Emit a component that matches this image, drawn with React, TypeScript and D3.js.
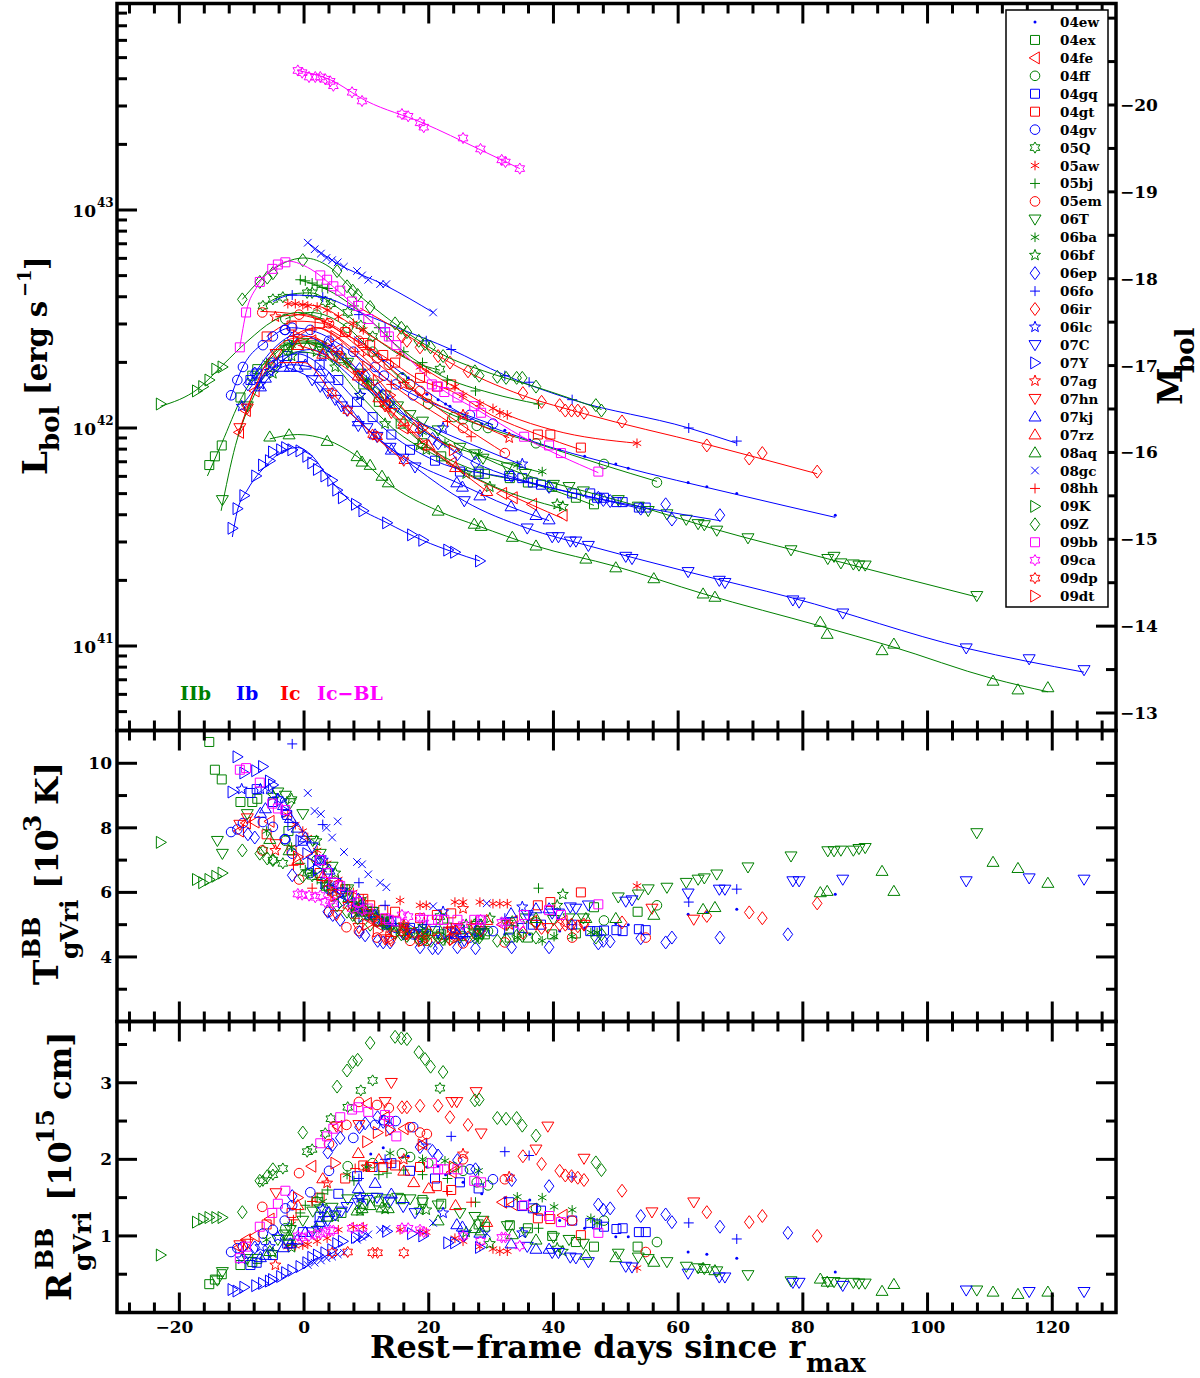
import React from "react";
import * as d3 from "d3";

const n = null;
// Each row: [rest-frame day, log10 Lbol, TBB (10^3 K), RBB (10^15 cm)]
const sn04ew = [[10.7,42.36,5.45,2.07],[12.7,42.31,5.2,2.15],[15.8,42.25,5.0,2.03],[16.7,42.23,4.95,2.04],[19.7,42.155,4.75,1.9],[21.5,42.13,4.6,1.91],[22.7,42.11,4.55,1.8],[23.4,42.1,4.6,1.82],[25.5,42.05,4.6,1.7],[28.5,42.02,4.65,1.55],[32.2,41.99,4.7,1.5],[36.2,41.945,4.7,1.47],[41,41.9,4.8,1.2],[45,41.87,4.9,1.1],[50,41.835,5.04,0.99],[52,41.815,5.0,0.99],[61.6,41.75,5.32,0.79],[64.6,41.73,5.38,0.76],[69.4,41.7,5.48,0.71],[85.2,41.6,5.94,0.53]];
const sn04ex = [[-15.2,41.83,10.66,0.37],[-14.3,41.87,9.8,0.43],[-13.2,41.92,9.5,0.5],[-10.2,42.14,8.8,0.62],[-8.3,42.24,8.8,0.66],[-7.5,42.27,8.9,0.7],[-2.5,42.38,7.9,0.95],[6,42.32,6.0,1.3],[9.5,42.2,5.5,1.42],[12,42.12,5.1,1.45],[15.5,42.02,4.8,1.48],[19,41.93,4.7,1.47],[22,41.87,4.7,1.42],[28,41.8,4.7,1.15],[29,41.79,4.7,1.12],[33,41.77,4.6,1.14],[35.9,41.75,4.6,1.1],[39.8,41.73,4.7,1.0],[43.6,41.68,4.73,0.92],[46.5,41.65,5.54,0.86],[53.5,n,5.4,0.86]];
const sn04fe = [[-10.4,41.98,7.9,0.85],[-9.3,42.08,8.15,0.95],[-7.9,42.17,8.18,1.0],[-5.5,42.28,8.2,1.22],[1.2,42.4,7.1,1.91],[5.4,42.36,6.2,2.43],[10.1,42.2,5.4,2.73],[13,42.1,5.0,2.55],[16,42.0,4.7,2.4],[19,41.92,4.6,2.2],[23.7,41.84,4.65,1.83],[31.8,41.7,5.0,1.44],[33.5,41.68,5.1,1.41],[36.6,41.65,5.1,1.35],[41.5,41.6,5.1,1.27]];
const sn04ff = [[-3,42.5,7.6,1.1],[2,42.52,7.0,1.45],[7,42.46,5.9,1.91],[11,42.35,5.3,1.95],[15.7,42.23,4.8,2.08],[17,42.2,4.75,2.03],[19.9,42.11,4.7,1.95],[24,42.05,4.6,1.9],[25.5,42.04,4.65,1.85],[27.7,42.01,4.7,1.7],[29.5,42.0,4.8,1.66],[37.2,41.93,5.07,1.36],[48.1,41.835,5.13,1.2],[56.6,41.75,5.6,0.92]];
const sn04gq = [[-8.6,42.22,9.08,0.62],[-7.6,42.25,9.2,0.65],[-5,42.3,8.8,0.75],[-2.7,42.33,8.4,0.9],[-0.2,42.325,7.6,1.05],[2.5,42.29,7.0,1.25],[5.5,42.22,6.2,1.55],[8.5,42.12,5.7,1.78],[11,42.05,5.4,1.9],[14,41.97,5.1,1.95],[17,41.9,4.9,1.85],[21,41.85,4.8,1.75],[25,41.8,4.85,1.7],[28,41.79,4.8,1.62],[32.9,41.78,4.85,1.44],[35,41.77,4.9,1.39],[36.7,41.75,5.0,1.36],[38,41.74,5.0,1.33],[43,41.7,5.0,1.2],[45.9,41.7,4.8,1.17],[47,41.68,4.8,1.15],[48.1,41.68,4.82,1.12],[50.1,41.66,4.83,1.09],[51.1,41.66,4.8,1.1],[53.7,41.635,4.86,1.05],[54.8,41.635,4.83,1.05]];
const sn04gt = [[-6,42.42,7.8,1.15],[-2,42.47,7.3,1.3],[2.5,42.48,6.6,1.5],[6.6,42.44,6.1,1.75],[9.5,42.39,5.8,1.92],[10.6,42.38,5.6,1.9],[12.7,42.335,5.45,1.9],[14.6,42.3,5.4,1.92],[18.6,42.23,5.2,1.9],[21.3,42.19,5.3,1.65],[23.6,42.2,5.35,1.6],[37.5,41.97,5.6,1.23],[39.5,41.97,5.7,1.22],[44.4,41.91,6.0,1.01]];
const sn04gv = [[-11.7,42.15,7.87,0.79],[-10.7,42.22,7.95,0.84],[-9.8,42.28,8.15,0.86],[-6.6,42.38,8.18,1.03],[-5,42.42,8.03,1.08],[-3.1,42.45,7.65,1.2],[-3,42.45,7.65,1.36],[-1.9,42.46,7.2,1.4],[1,42.45,6.6,1.57],[4,42.4,6.1,1.85],[7.9,42.35,5.6,2.28],[11.4,42.28,5.2,2.45],[12.8,42.24,5.05,2.51],[14.7,42.2,4.9,2.5],[17.5,42.15,4.7,2.42],[26.6,42.06,4.6,1.87],[30.3,42.02,4.8,1.74]];
const sn05Q = [[-6.6,42.56,7.3,1.72],[-5,42.59,7.0,1.8],[-3.4,42.6,6.9,1.88],[0.5,42.62,6.6,2.1],[1.3,42.62,6.5,2.13],[3.4,42.58,6.2,2.34],[4.3,42.57,6.1,2.53],[7,42.53,5.8,2.68],[9.1,42.47,5.5,2.9],[11,42.42,5.3,3.03],[21.8,42.27,5.25,2.93]];
const sn05aw = [[-2.6,42.57,8.4,0.86],[-1.4,42.57,8.1,0.87],[-0.2,42.565,7.9,0.88],[0.6,42.56,7.7,0.89],[2.1,42.555,7.3,0.93],[3.7,42.54,6.9,0.97],[5.5,42.51,6.4,1.08],[7.9,42.48,6.0,1.12],[9.5,42.45,5.8,1.12],[15.4,42.34,5.75,1.08],[18.6,42.28,5.6,1.05],[19.6,42.26,5.6,1.05],[24.2,42.19,5.7,0.97],[25.5,42.15,5.7,0.93],[28.2,42.11,5.7,0.86],[30.3,42.09,5.65,0.83],[31.4,42.07,5.65,0.8],[32.6,42.06,5.65,0.8],[53.4,41.93,6.2,0.58]];
const sn05bj = [[-0.6,42.68,6.9,1.3],[0.2,42.675,6.7,1.4],[1.3,42.665,6.6,1.45],[2.1,42.655,6.4,1.5],[2.9,42.645,6.3,1.55],[3.8,42.64,6.2,1.6],[8,42.56,5.7,1.72],[12,42.46,5.3,1.8],[13.3,42.42,5.2,1.82],[16,42.35,5.0,1.86],[19,42.3,5.0,1.8],[23,42.22,5.05,1.75],[27.5,42.17,5.1,1.44],[37.6,42.11,6.13,1.1]];
const sn05em = [[-6.7,42.53,7.3,1.38],[-0.8,42.52,6.4,1.82],[4,42.48,5.4,2.2],[6.8,42.44,4.92,2.45],[8.8,42.4,4.8,2.75],[11.7,42.32,4.6,2.71],[13.6,42.29,4.55,2.67],[17,42.2,4.5,2.42],[18.6,42.17,4.5,2.35],[19.7,42.14,4.5,2.33],[25.5,42.0,4.42,2.0],[32.2,41.885,4.45,1.74],[43,n,4.6,1.2],[54.8,n,4.6,0.79]];
const sn06T = [[-13.9,n,7.6,0.42],[-13.1,41.67,7.2,0.53],[-9.1,42.1,8.43,0.7],[-4.2,42.34,9.1,0.95],[-3,42.36,9.0,1.02],[-2.2,42.37,8.77,1.08],[-0.2,42.39,8.43,1.2],[1.4,42.38,7.6,1.32],[2.6,42.37,7.2,1.35],[4.5,42.33,6.8,1.37],[7,42.3,6.1,1.48],[9,42.25,5.7,1.5],[11,42.2,5.4,1.5],[13,42.15,5.1,1.48],[15,42.1,4.9,1.5],[17,42.06,4.75,1.48],[19,42.03,4.65,1.44],[21.5,41.99,4.6,1.4],[25,41.91,4.6,1.3],[27.4,41.88,4.7,1.25],[28.7,41.86,4.75,1.2],[32.6,41.82,5.0,1.13],[35.5,41.79,5.2,1.05],[40,41.74,5.15,0.98],[42.5,41.73,5.2,0.95],[44.8,41.71,5.2,0.9],[50.4,41.67,5.85,0.77],[53.6,41.64,5.94,0.72],[55.2,41.62,6.1,0.7],[58.2,41.605,6.15,0.66],[61.3,41.58,6.3,0.6],[63.2,41.56,6.4,0.58],[64.2,41.555,6.44,0.57],[66.2,41.53,6.56,0.54],[71.2,41.495,6.78,0.49],[78.1,41.44,7.12,0.41],[84,41.4,7.28,0.4],[85,41.41,7.28,0.4],[86.1,41.38,7.3,0.39],[88.1,41.375,7.3,0.39],[89,41.37,7.35,0.38],[90,41.37,7.38,0.38],[107.9,41.23,7.84,0.29]];
const sn06ba = [[-6,42.3,7.9,0.95],[-2,42.38,7.4,1.15],[3,42.38,6.7,1.45],[6.9,42.3,6.1,1.8],[10,42.22,5.4,1.9],[13.8,42.1,4.9,2.08],[19,41.98,4.6,2.0],[22.6,41.93,4.5,1.98],[28,41.88,4.6,1.85],[34.2,41.83,4.6,1.51],[38.2,41.8,4.5,1.5],[40.1,n,4.63,1.38],[43,n,4.63,1.34],[46,n,4.76,1.23],[47,n,4.76,1.17]];
const sn06bf = [[-5,42.25,9.0,0.78],[-2,42.33,8.9,0.85],[2,42.35,7.6,1.1],[5,42.28,6.6,1.25],[9,42.15,5.6,1.33],[13,42.02,5.0,1.35],[18.5,41.92,4.85,1.34],[19.6,41.9,4.8,1.34],[26,41.79,5.0,1.05],[29.8,41.73,5.2,0.9],[40.6,41.65,5.6,0.84],[41.5,41.64,5.94,0.8]];
const sn06ep = [[-9,42.2,7.8,0.78],[-7.9,42.25,7.7,0.85],[-1.9,42.41,6.53,1.52],[3.8,42.38,5.4,2.09],[4.6,42.36,5.3,2.19],[5.8,42.34,5.15,2.28],[8.9,42.27,4.77,2.42],[9.8,42.24,4.67,2.47],[11.8,42.18,4.5,2.55],[12.7,42.15,4.45,2.49],[13.8,42.12,4.45,2.4],[18.6,41.99,4.3,2.16],[20.6,41.95,4.27,2.11],[21.5,41.93,4.27,2.05],[24.6,41.88,4.3,1.99],[27.5,41.84,4.27,1.87],[33.3,41.78,4.3,1.73],[39.3,41.73,4.3,1.65],[47.2,41.68,4.42,1.41],[48,41.67,4.5,1.34],[49.1,41.665,4.48,1.36],[54,41.63,4.58,1.26],[58,41.65,4.45,1.28],[59,41.58,4.6,1.18],[66.7,41.6,4.6,1.12],[77.6,n,4.7,1.04]];
const sn06fo = [[-1.9,42.61,10.6,0.9],[3,42.6,8.1,1.25],[8.8,42.52,6.3,1.75],[13,42.46,5.6,2.0],[19.6,42.4,5.0,2.2],[23.6,42.36,4.9,2.3],[32.2,42.24,5.2,2.1],[36.1,42.21,5.3,2.05],[43,42.13,5.0,1.77],[61.7,42.0,5.7,1.17],[69.4,41.94,6.1,0.96]];
const sn06ir = [[15.7,42.42,4.8,2.68],[16.5,42.4,4.75,2.68],[18.6,42.37,4.6,2.7],[21.5,42.33,4.6,2.7],[23.4,42.3,4.55,2.55],[26.3,42.26,4.6,2.45],[35.1,42.16,4.75,2.04],[38.1,42.12,4.9,1.94],[41,42.105,5.0,1.85],[41.9,42.08,5.0,1.79],[42.9,42.08,5.0,1.78],[43.9,42.08,4.95,1.76],[44.9,42.07,5.0,1.73],[51,42.03,5.07,1.59],[64.6,41.92,5.27,1.31],[71.4,41.86,5.38,1.18],[73.5,41.885,5.2,1.26],[82.3,41.8,5.66,1.0]];
const sn06lc = [[-10,42.1,9.2,0.7],[-7,42.2,9.2,0.86],[-5.5,42.26,9.2,0.86],[-4.2,42.3,8.9,0.99],[3,42.33,7.0,1.35],[9,42.15,5.4,1.5],[22.3,42.0,5.4,1.3],[35,41.835,5.55,1.04]];
const sn07C = [[1.3,42.22,7.4,1.05],[2.6,42.19,7.0,1.13],[3.8,42.16,6.6,1.2],[5,42.13,6.3,1.27],[6,42.1,6.0,1.32],[6.9,42.08,5.9,1.38],[8.7,42.01,5.5,1.43],[10.1,42.0,5.3,1.47],[11.7,41.96,5.1,1.5],[13.8,41.91,4.9,1.45],[15.9,41.86,4.7,1.38],[17.8,41.82,4.7,1.3],[25.7,41.665,4.5,1.0],[35.8,41.54,5.3,0.86],[39.8,41.5,5.35,0.78],[40.8,41.5,5.35,0.78],[42.7,41.48,5.54,0.72],[43.6,41.48,5.5,0.71],[45.6,41.46,5.6,0.66],[51.6,41.41,5.72,0.6],[52.6,41.4,5.76,0.59],[61.6,41.34,5.97,0.51],[66.6,41.3,6.09,0.46],[67.5,41.29,6.09,0.46],[78.4,41.21,6.35,0.39],[79.4,41.2,6.35,0.39],[86.4,41.15,6.4,0.35],[106.2,40.99,6.35,0.29],[116.3,40.94,6.44,0.27],[125.1,40.89,6.4,0.27]];
const sn07Y = [[-11.5,41.54,9.11,0.3],[-10.7,41.63,10.2,0.28],[-9.6,41.69,9.7,0.33],[-7.7,41.78,9.77,0.35],[-6.6,41.83,9.9,0.38],[-5.5,41.85,9.45,0.41],[-5,41.89,9.33,0.43],[-3.7,41.9,8.86,0.47],[-2.9,41.91,8.5,0.52],[-1.9,41.9,8.1,0.55],[-0.6,41.895,7.6,0.6],[0.5,41.87,7.2,0.65],[1.3,41.84,6.9,0.72],[2.2,41.81,6.7,0.75],[3.4,41.78,6.3,0.78],[4.5,41.76,6.1,0.82],[5.3,41.715,5.9,0.9],[6.2,41.68,5.7,0.93],[8.3,41.65,5.4,0.98],[9.5,41.62,5.25,1.0],[13.3,41.565,5.0,1.06],[17.3,41.51,4.85,1.03],[19.1,41.485,4.8,1.0],[23.1,41.44,4.75,0.91],[24.2,41.43,4.75,0.91],[28.2,41.39,4.8,0.85]];
const sn07ag = [[-4.6,42.51,7.3,0.62],[3.7,42.48,6.3,1.69],[10,42.35,5.4,1.9],[16,42.2,5.0,2.0],[25.5,42.06,5.5,2.07],[32.9,41.955,5.0,1.77]];
const sn07hn = [[-10.3,42.0,8.1,0.88],[-9.1,42.09,8.3,0.9],[-4.5,42.34,7.5,1.56],[5.2,42.33,5.3,2.43],[8.8,42.24,4.9,2.45],[13,42.1,4.55,2.75],[14,42.07,4.5,3.0],[23.7,n,4.8,2.75],[24.5,n,4.9,2.75],[27.6,n,4.9,2.88],[28.4,n,4.8,2.34],[37.2,n,5.0,2.13],[39.1,n,4.9,2.43],[44.9,n,5.0,2.01],[55.8,n,5.5,1.31],[62.5,n,5.16,1.44]];
const sn07kj = [[-7,42.19,8.46,0.72],[-6.2,42.23,8.6,0.75],[-3.3,42.28,8.7,0.85],[-2.2,42.28,8.3,0.9],[-1.1,42.28,8.0,0.95],[0.2,42.29,7.7,1.05],[2.5,42.26,7.0,1.18],[4,42.23,6.7,1.31],[8.7,42.03,5.8,1.62],[11.4,41.97,5.3,1.69],[14,41.9,5.1,1.55],[24.5,41.75,4.7,1.15],[25.4,41.73,4.75,1.12],[28.2,41.69,5.0,1.04],[33.2,41.64,5.35,0.9],[37.2,41.6,5.5,0.83],[39.3,41.58,5.5,0.83]];
const sn07rz = [[-1,42.38,7.0,1.4],[3,42.34,6.5,1.75],[8.7,42.24,5.5,2.08],[12,42.14,5.1,2.0],[16,42.03,4.8,1.85],[17.6,42.0,4.75,1.7],[20,41.92,4.8,1.62],[24.3,41.82,4.85,1.4],[29.3,41.71,5.14,1.18]];
const sn08aq = [[-5.5,41.96,7.65,0.8],[-2.4,41.97,7.3,1.0],[3.7,41.94,6.2,1.25],[8.5,41.87,5.5,1.33],[9.3,41.845,5.4,1.36],[10.6,41.83,5.3,1.4],[12.5,41.78,5.1,1.37],[13.5,41.75,5.0,1.36],[21.5,41.62,4.9,1.2],[27.3,41.56,5.0,1.1],[28.4,41.55,5.0,1.07],[33.4,41.5,5.1,1.02],[37.2,41.46,5.2,0.95],[45.2,41.4,5.2,0.75],[50,41.36,5.2,0.72],[56.1,41.31,5.3,0.66],[64,41.24,5.48,0.58],[65.9,41.225,5.54,0.55],[82.8,41.11,6.0,0.44],[83.9,41.055,6.04,0.4],[92.7,40.98,6.66,0.28],[94.6,41.01,6.04,0.37],[110.5,40.84,6.94,0.27],[114.5,40.8,6.75,0.24],[119.3,40.81,6.29,0.27]];
const sn08gc = [[0.6,42.85,9.08,0.62],[1.7,42.82,8.52,0.65],[2.7,42.8,8.43,0.68],[3.6,42.78,8.0,0.71],[4.5,42.77,7.7,0.73],[5.4,42.76,8.2,0.76],[6.4,42.74,7.25,0.78],[8.5,42.72,6.94,0.95],[9.3,42.7,6.87,0.99],[10.3,42.68,6.56,1.02],[12.2,42.66,6.3,1.08],[13.2,42.66,6.16,1.09],[20.7,42.53,5.57,1.17],[29.3,n,5.66,1.03]];
const sn08hh = [[-1.7,42.42,6.84,1.21],[1.3,42.45,6.13,1.45],[8.2,42.35,5.2,1.88],[14,42.2,4.8,1.95],[23,42.03,4.9,1.58],[26.8,41.96,5.0,1.44]];
const sn09K = [[-23,42.11,7.55,0.75],[-17.2,42.17,6.4,1.18],[-16.2,42.19,6.3,1.22],[-15.2,42.22,6.4,1.24],[-14.1,42.27,6.5,1.24],[-13.1,42.28,6.6,1.24]];
const sn09Z = [[-9.9,42.59,7.3,1.31],[-7.1,42.67,7.2,1.72],[-5.9,42.69,7.05,1.78],[-5,42.71,7.0,1.87],[-0.2,42.77,6.5,2.35],[5.3,42.72,5.6,2.95],[6.9,42.65,5.4,3.16],[7.8,42.63,5.3,3.27],[8.6,42.61,5.2,3.3],[10.6,42.555,5.0,3.52],[14.6,42.48,4.75,3.6],[15.6,42.46,4.7,3.58],[16.5,42.44,4.65,3.57],[18.4,42.4,4.55,3.4],[19.4,42.385,4.55,3.31],[20.3,42.37,4.5,3.21],[22.3,42.33,4.55,3.14],[27.4,42.26,4.6,2.77],[28.1,42.24,4.6,2.78],[31,42.235,4.5,2.54],[32.4,42.23,4.55,2.53],[34.1,42.23,4.65,2.54],[35,42.23,4.65,2.44],[37.2,42.19,4.6,2.31],[46.8,42.105,4.6,1.96],[47.7,42.08,4.7,1.86]];
const sn09bb = [[-10.3,42.37,9.8,0.71],[-9.3,42.53,9.85,0.86],[-7.1,42.67,9.4,1.12],[-5.1,42.73,8.75,1.3],[-4.2,42.75,8.6,1.42],[-3,42.76,8.55,1.59],[2.6,42.7,7.0,2.21],[3.7,42.68,6.6,2.3],[4.7,42.65,6.3,2.4],[5.8,42.63,6.2,2.55],[7.7,42.58,5.9,2.65],[8.7,42.56,5.7,2.68],[10.3,42.5,5.5,2.62],[13,42.44,5.2,2.58],[13.6,42.42,5.15,2.5],[14.8,42.38,5.1,2.3],[20.5,42.2,5.15,1.95],[21.5,42.19,5.15,1.87],[22.5,42.165,5.15,1.87],[24.6,42.14,5.15,1.87],[27.3,42.1,5.15,1.72],[28.4,42.07,5.15,1.7],[35.3,41.96,5.3,1.4],[39.3,41.92,5.45,1.26],[41.2,41.885,5.3,1.18],[47.2,41.8,5.63,1.04]];
const sn09ca = [[-1,43.64,5.95,1.0],[-0.3,43.63,5.93,0.98],[0.8,43.61,5.9,1.0],[1.8,43.61,5.85,1.02],[2.6,43.61,5.9,1.03],[3.4,43.6,5.7,1.05],[4.2,43.59,5.75,1.07],[4.7,43.57,5.65,1.07],[7.7,43.54,5.5,1.1],[9.3,43.5,5.45,1.1],[15.7,43.44,5.3,1.1],[16.7,43.43,5.25,1.1],[18.6,43.4,5.2,1.08],[19.2,43.38,5.2,1.05],[25.5,43.33,5.0,1.0],[28.3,43.28,5.15,0.93],[31.7,43.23,5.07,0.98],[32.3,43.22,5.07,0.98],[34.6,43.19,5.0,0.87]];
const sn09dp = [[4.5,42.16,6.0,0.78],[7,42.08,5.6,0.79],[11,41.97,5.2,0.78],[11.8,41.96,5.1,0.78],[16,41.85,4.9,0.78]];
const sn09dt = [[-1,42.42,7.1,1.5],[5,42.42,5.9,1.95],[10.1,42.28,5.0,2.23],[11.8,42.22,4.8,2.35],[13.8,42.15,4.6,2.38],[19,42.0,4.5,2.19],[24,41.9,4.55,1.9]];

// Smooth light-curve fits: [day, log10 Lbol] knots
const fit04ew = [[8,42.42],[16.7,42.23],[25,42.07],[36,41.945],[50,41.83],[69.4,41.695],[85.2,41.59]];
const fit04ex = [[-15.5,41.78],[-13.2,41.93],[-10,42.14],[-6,42.31],[-2.5,42.385],[1,42.39],[6,42.32],[12,42.12],[19,41.93],[28,41.8],[36,41.75],[46.5,41.645]];
const fit04fe = [[-10.6,41.96],[-8,42.17],[-4,42.33],[1,42.41],[5.4,42.36],[13,42.1],[23.7,41.83],[31.8,41.71],[41.5,41.585]];
const fit04ff = [[-3,42.5],[1,42.53],[7,42.46],[11,42.35],[19.9,42.12],[29.5,42.0],[37.2,41.93],[48,41.83],[56.6,41.755]];
const fit04gq = [[-8.6,42.2],[-5,42.31],[-1,42.34],[3,42.28],[8.5,42.12],[14,41.97],[21,41.85],[32.9,41.77],[45,41.69],[54.8,41.625]];
const fit04gt = [[-6,42.42],[-1,42.49],[3,42.48],[6.6,42.43],[12.7,42.33],[18.6,42.22],[23.6,42.17],[30,42.06],[37.5,41.97],[44.4,41.9]];
const fit04gv = [[-11.9,42.13],[-10,42.27],[-6,42.4],[-2,42.46],[2,42.44],[8,42.34],[14,42.21],[20,42.12],[26,42.06],[30.3,42.015]];
const fit05Q = [[-6.6,42.56],[-3,42.61],[1,42.62],[5,42.56],[11,42.42],[17,42.31],[21.8,42.265]];
const fit05aw = [[-2.6,42.57],[2,42.56],[7.9,42.47],[15.4,42.34],[24,42.19],[32.6,42.06],[40,41.99],[53.4,41.93]];
const fit05bj = [[-0.8,42.68],[4,42.63],[10,42.51],[16,42.35],[22,42.24],[30,42.16],[37.6,42.11]];
const fit05em = [[-7,42.535],[-0.8,42.52],[4,42.48],[8.8,42.39],[13.6,42.28],[19.7,42.13],[25.5,42.01],[32.2,41.885]];
const fit06T = [[-13.3,41.62],[-11,41.92],[-8,42.15],[-4,42.33],[0,42.39],[4,42.35],[8,42.27],[13,42.15],[19,42.02],[27,41.89],[35,41.79],[45,41.71],[55,41.63],[66,41.535],[84,41.4],[107.9,41.225]];
const fit06ba = [[-6,42.3],[-1,42.4],[3,42.38],[8,42.27],[13.8,42.1],[22,41.94],[30,41.86],[38.2,41.795]];
const fit06bf = [[-5,42.25],[-1,42.35],[3,42.33],[9,42.15],[15,41.98],[22,41.86],[29.8,41.74],[41.5,41.63]];
const fit06ep = [[-9,42.2],[-5,42.36],[-1,42.43],[4,42.37],[9,42.26],[18.6,42.0],[27.5,41.84],[39,41.73],[50,41.66],[66.7,41.575]];
const fit06fo = [[-5,42.58],[-1.9,42.61],[3,42.6],[9,42.53],[15,42.46],[23.6,42.36],[32,42.245],[43,42.13],[61.7,42.0],[69.4,41.93]];
const fit06ir = [[9,42.55],[15.7,42.44],[23.4,42.3],[35,42.15],[45,42.065],[64.6,41.925],[82.3,41.79]];
const fit06lc = [[-10,42.1],[-4,42.3],[1,42.36],[9,42.2],[16,42.06],[22.3,41.98],[35,41.83]];
const fit07C = [[-3,42.28],[1,42.23],[5,42.13],[10,42.0],[17.8,41.82],[25.7,41.665],[35.8,41.54],[45.6,41.46],[61.6,41.34],[78.4,41.22],[106.2,40.99],[125.1,40.88]];
const fit07Y = [[-11.5,41.5],[-10.7,41.62],[-9,41.72],[-6,41.83],[-3,41.9],[-1,41.91],[1,41.88],[4,41.77],[8,41.65],[13.3,41.565],[19,41.485],[24,41.43],[28.2,41.39]];
const fit07ag = [[-4.6,42.51],[0,42.52],[3.7,42.48],[10,42.34],[16,42.2],[25.5,42.05],[32.9,41.955]];
const fit07hn = [[-10.6,41.97],[-9,42.1],[-6,42.3],[-2,42.41],[1,42.42],[5.2,42.34],[9,42.23],[14,42.07]];
const fit07kj = [[-7.3,42.17],[-5,42.25],[-2,42.29],[1,42.28],[5,42.18],[10,42.0],[17,41.85],[24.5,41.75],[33,41.64],[39.3,41.575]];
const fit07rz = [[-1,42.38],[3,42.34],[8.7,42.23],[16,42.02],[24.3,41.82],[29.3,41.71]];
const fit08aq = [[-5.5,41.95],[-1,41.97],[3.7,41.945],[8.5,41.87],[13.5,41.745],[21.5,41.62],[28,41.55],[37,41.46],[50,41.365],[64,41.24],[83,41.09],[94,41.0],[110.5,40.85],[119.3,40.79]];
const fit08gc = [[0.6,42.85],[5,42.76],[13,42.655],[20.7,42.53]];
const fit08hh = [[-2,42.42],[2,42.46],[8,42.36],[15,42.18],[22,42.05],[26.8,41.96]];
const fit09K = [[-23,42.1],[-17,42.18],[-13,42.29],[-9,42.4],[-5,42.49],[-1,42.53],[3,42.5]];
const fit09Z = [[-9.9,42.59],[-7,42.68],[-3,42.76],[0,42.78],[4,42.74],[8,42.63],[14,42.49],[22,42.34],[30,42.25],[37,42.19],[47.7,42.085]];
const fit09bb = [[-10.3,42.37],[-9.3,42.53],[-7.5,42.65],[-5,42.73],[-2.5,42.765],[1,42.73],[5,42.64],[10,42.51],[15,42.37],[22,42.18],[28,42.08],[35,41.96],[47.2,41.795]];
const fit09ca = [[-1,43.64],[4,43.6],[10,43.5],[19,43.4],[28,43.28],[34.6,43.19]];
const fit09dp = [[-4,42.3],[0,42.3],[4.5,42.16],[11,41.97],[16,41.85]];
const fit09dt = [[-1,42.42],[2,42.46],[5,42.42],[10,42.28],[19,42.0],[24,41.9]];

const BLUE = "#0000ff", GREEN = "#008000", RED = "#ff0000", MAG = "#ff00ff";
const names = ["04ew","04ex","04fe","04ff","04gq","04gt","04gv","05Q","05aw","05bj","05em","06T","06ba","06bf","06ep","06fo","06ir","06lc","07C","07Y","07ag","07hn","07kj","07rz","08aq","08gc","08hh","09K","09Z","09bb","09ca","09dp","09dt"];
const colors = [BLUE,GREEN,RED,GREEN,BLUE,RED,BLUE,GREEN,RED,GREEN,RED,GREEN,GREEN,GREEN,BLUE,BLUE,RED,BLUE,BLUE,BLUE,RED,RED,BLUE,RED,GREEN,BLUE,RED,GREEN,GREEN,MAG,MAG,RED,RED];
const shapes = ["dot","square","left","circle","square","square","circle","hex","aster","plus","circle","down","aster","star","diamond","plus","diamond","star","down","right","star","down","up","up","up","cross","plus","right","diamond","square","hex","hex","right"];
const rows = [sn04ew,sn04ex,sn04fe,sn04ff,sn04gq,sn04gt,sn04gv,sn05Q,sn05aw,sn05bj,sn05em,sn06T,sn06ba,sn06bf,sn06ep,sn06fo,sn06ir,sn06lc,sn07C,sn07Y,sn07ag,sn07hn,sn07kj,sn07rz,sn08aq,sn08gc,sn08hh,sn09K,sn09Z,sn09bb,sn09ca,sn09dp,sn09dt];
const fits = [fit04ew,fit04ex,fit04fe,fit04ff,fit04gq,fit04gt,fit04gv,fit05Q,fit05aw,fit05bj,fit05em,fit06T,fit06ba,fit06bf,fit06ep,fit06fo,fit06ir,fit06lc,fit07C,fit07Y,fit07ag,fit07hn,fit07kj,fit07rz,fit08aq,fit08gc,fit08hh,fit09K,fit09Z,fit09bb,fit09ca,fit09dp,fit09dt];

const typeLabels = [["IIb",GREEN,180],["Ib",BLUE,236],["Ic",RED,280],["Ic\u2212BL",MAG,317]];
const xMajor = [-20,0,20,40,60,80,100,120];
const mMajor = [-20,-19,-18,-17,-16,-15,-14,-13];
const tMajor = [4,6,8,10];
const rMajor = [1,2,3];

const FONT = "'DejaVu Serif', serif";
const L = 117, Rt = 1116;
const x = d3.scaleLinear().domain([-30,130]).range([117,1114.6]);
const yL = d3.scaleLinear().domain([41,43]).range([646,210]);
const yM = d3.scaleLinear().domain([-20,-13]).range([105,713]);
const yT = d3.scaleLinear().domain([2,11]).range([1021.5,731]);
const yR = d3.scaleLinear().domain([0,3.8]).range([1312.5,1021.5]);
const lineGen = d3.line<number[]>().x(d => x(d[0])).y(d => yL(d[1])).curve(d3.curveMonotoneX);

function ring(pts: number[][]) { return "M" + pts.map(p => p[0].toFixed(2) + "," + p[1].toFixed(2)).join("L") + "Z"; }
function starPts(k: number, r1: number, r2: number, rot: number) {
  const out: number[][] = [];
  for (let i = 0; i < 2 * k; i++) {
    const a = rot + i * Math.PI / k, r = i % 2 ? r2 : r1;
    out.push([r * Math.sin(a), -r * Math.cos(a)]);
  }
  return out;
}
function shapePath(s: string) {
  switch (s) {
    case "square": return "M-4.5,-4.5H4.5V4.5H-4.5Z";
    case "circle": { const p = d3.path(); p.arc(0,0,4.8,0,2*Math.PI); p.closePath(); return p.toString(); }
    case "diamond": return "M0,-6.5L4.8,0L0,6.5L-4.8,0Z";
    case "up": return "M0,-5.8L6,4.3H-6Z";
    case "down": return "M0,5.8L6,-4.3H-6Z";
    case "left": return "M-5.8,0L4.3,-6V6Z";
    case "right": return "M5.8,0L-4.3,-6V6Z";
    case "plus": return "M-5,0H5M0,-5V5";
    case "cross": return "M-3.8,-3.8L3.8,3.8M-3.8,3.8L3.8,-3.8";
    case "aster": return "M0,-4.8V4.8M-4.2,-2.4L4.2,2.4M-4.2,2.4L4.2,-2.4";
    case "star": return ring(starPts(5, 5.8, 2.5, 0));
    case "hex": return ring(starPts(6, 5.6, 3.2, 0));
    default: return "";
  }
}

function Marker({ shape, color, px, py }: any) {
  if (px == null || py == null) return null;
  if (shape === "dot") return <circle cx={px} cy={py} r={1.5} fill={color} />;
  return <path transform={`translate(${px},${py})`} d={shapePath(shape)} fill="none" stroke={color} strokeWidth={1} />;
}

function XTicks({ top, bottom }: any) {
  const out: any[] = [];
  for (let v = -28; v <= 128; v += 4) {
    const major = v % 20 === 0, len = major ? 20 : 10;
    out.push(<line key={"t"+v} x1={x(v)} x2={x(v)} y1={top} y2={top + len} />);
    out.push(<line key={"b"+v} x1={x(v)} x2={x(v)} y1={bottom} y2={bottom - len} />);
  }
  return <g>{out}</g>;
}
function YTicks({ scale, from, to, step, majors, side }: any) {
  const out: any[] = [];
  for (let v = from; v <= to + 1e-6; v += step) {
    const len = majors.includes(+v.toFixed(3)) ? 20 : 10;
    const y = scale(v);
    if (side !== "right") out.push(<line key={"l"+v} x1={L} x2={L + len} y1={y} y2={y} />);
    if (side !== "left") out.push(<line key={"r"+v} x1={Rt} x2={Rt - len} y1={y} y2={y} />);
  }
  return <g>{out}</g>;
}

export default function App() {
  const logTicks: any[] = [];
  for (const dec of [40,41,42,43]) for (let m = 1; m < 10; m++) {
    const v = dec + Math.log10(m), y = yL(v);
    if (y < 5 || y > 729) continue;
    const len = m === 1 ? 20 : 10;
    logTicks.push(<line key={dec+"-"+m} x1={L} x2={L + len} y1={y} y2={y} />);
  }
  return (
    <svg width={1200} height={1378} viewBox="0 0 1200 1378" style={{ position: "absolute", left: 0, top: 0 }} fontFamily={FONT} fontWeight="bold">
      <rect width={1200} height={1378} fill="#fff" />
      {names.map((name, i) => (
        <g key={name}>
          <path d={lineGen(fits[i] as number[][]) || ""} fill="none" stroke={colors[i]} strokeWidth={1} />
          {rows[i].map((r: any, j: number) => (
            <g key={j}>
              {r[1] != null && <Marker shape={shapes[i]} color={colors[i]} px={x(r[0])} py={yL(r[1])} />}
              <Marker shape={shapes[i]} color={colors[i]} px={x(r[0])} py={yT(r[2])} />
              <Marker shape={shapes[i]} color={colors[i]} px={x(r[0])} py={yR(r[3])} />
            </g>
          ))}
        </g>
      ))}
      <g stroke="#000" strokeWidth={3}>
        <XTicks top={3.5} bottom={730.5} />
        <XTicks top={730.5} bottom={1021.5} />
        <XTicks top={1021.5} bottom={1312.5} />
        {logTicks}
        <YTicks scale={yM} from={-21.5} to={-13} step={0.5} majors={mMajor} side="right" />
        <YTicks scale={yT} from={3} to={10} step={1} majors={tMajor} side="both" />
        <YTicks scale={yR} from={0.5} to={3.5} step={0.5} majors={rMajor} side="both" />
      </g>
      <g fill="none" stroke="#000" strokeWidth={3.5}>
        <rect x={L} y={3.5} width={Rt - L} height={727} />
        <rect x={L} y={730.5} width={Rt - L} height={291} />
        <rect x={L} y={1021.5} width={Rt - L} height={291} />
      </g>

      <g>
        <rect x={1006} y={10} width={102} height={597} fill="#fff" stroke="#000" strokeWidth={1.5} />
        {names.map((name, i) => {
          const y = 22 + i * 17.94;
          return (
            <g key={name}>
              <Marker shape={shapes[i]} color={colors[i]} px={1035} py={y} />
              <text x={1060} y={y + 5} fontSize={13.5}>{name}</text>
            </g>
          );
        })}
      </g>

      <g fontSize={17}>
        {xMajor.map(v => (
          <text key={v} x={v < 0 ? x(v) - 5 : x(v)} y={1333} textAnchor="middle">{v < 0 ? "\u2212" + (-v) : v}</text>
        ))}
        {mMajor.map(v => (
          <text key={v} x={1120} y={yM(v) + 6}>{"\u2212" + (-v)}</text>
        ))}
        {tMajor.map(v => (
          <text key={v} x={112} y={yT(v) + 6} textAnchor="end">{v}</text>
        ))}
        {rMajor.map(v => (
          <text key={v} x={112} y={yR(v) + 6} textAnchor="end">{v}</text>
        ))}
        {[41,42,43].map(v => (
          <g key={v}>
            <text x={96} y={yL(v) + 7} textAnchor="end">10</text>
            <text x={97} y={yL(v) - 3} fontSize={12}>{v}</text>
          </g>
        ))}
      </g>

      {typeLabels.map(t => (
        <text key={t[0] as string} x={t[2] as number} y={700} fontSize={19} fill={t[1] as string}>{t[0]}</text>
      ))}

      <g transform="translate(47,475) rotate(-90)">
        <text x={0} y={0} fontSize={34}>L</text>
        <text x={24} y={12} fontSize={26}>bol</text>
        <text x={80} y={0} fontSize={29}>[erg s</text>
        <text x={178} y={-16} fontSize={18}>{"\u22121"}</text>
        <text x={205} y={0} fontSize={29}>]</text>
      </g>

      <g transform="translate(58,985) rotate(-90)">
        <text x={0} y={0} fontSize={34}>T</text>
        <text x={26} y={-18} fontSize={25}>BB</text>
        <text x={26} y={20} fontSize={25}>gVri</text>
        <text x={96} y={0} fontSize={32}>[10</text>
        <text x={153} y={-17} fontSize={25}>3</text>
        <text x={180} y={0} fontSize={32}>K]</text>
      </g>

      <g transform="translate(71,1301) rotate(-90)">
        <text x={0} y={0} fontSize={34}>R</text>
        <text x={31} y={-18} fontSize={25}>BB</text>
        <text x={30} y={20} fontSize={25}>gVri</text>
        <text x={100} y={0} fontSize={32}>[10</text>
        <text x={157} y={-17} fontSize={25}>15</text>
        <text x={201} y={0} fontSize={32}>cm]</text>
      </g>

      <g transform="translate(1182,405) rotate(-90)">
        <text x={0} y={0} fontSize={34}>M</text>
        <text x={32} y={12} fontSize={26}>bol</text>
      </g>

      <text x={370} y={1358} fontSize={32}>{"Rest\u2212frame days since r"}</text>
      <text x={806} y={1372} fontSize={26}>max</text>
    </svg>
  );
}
